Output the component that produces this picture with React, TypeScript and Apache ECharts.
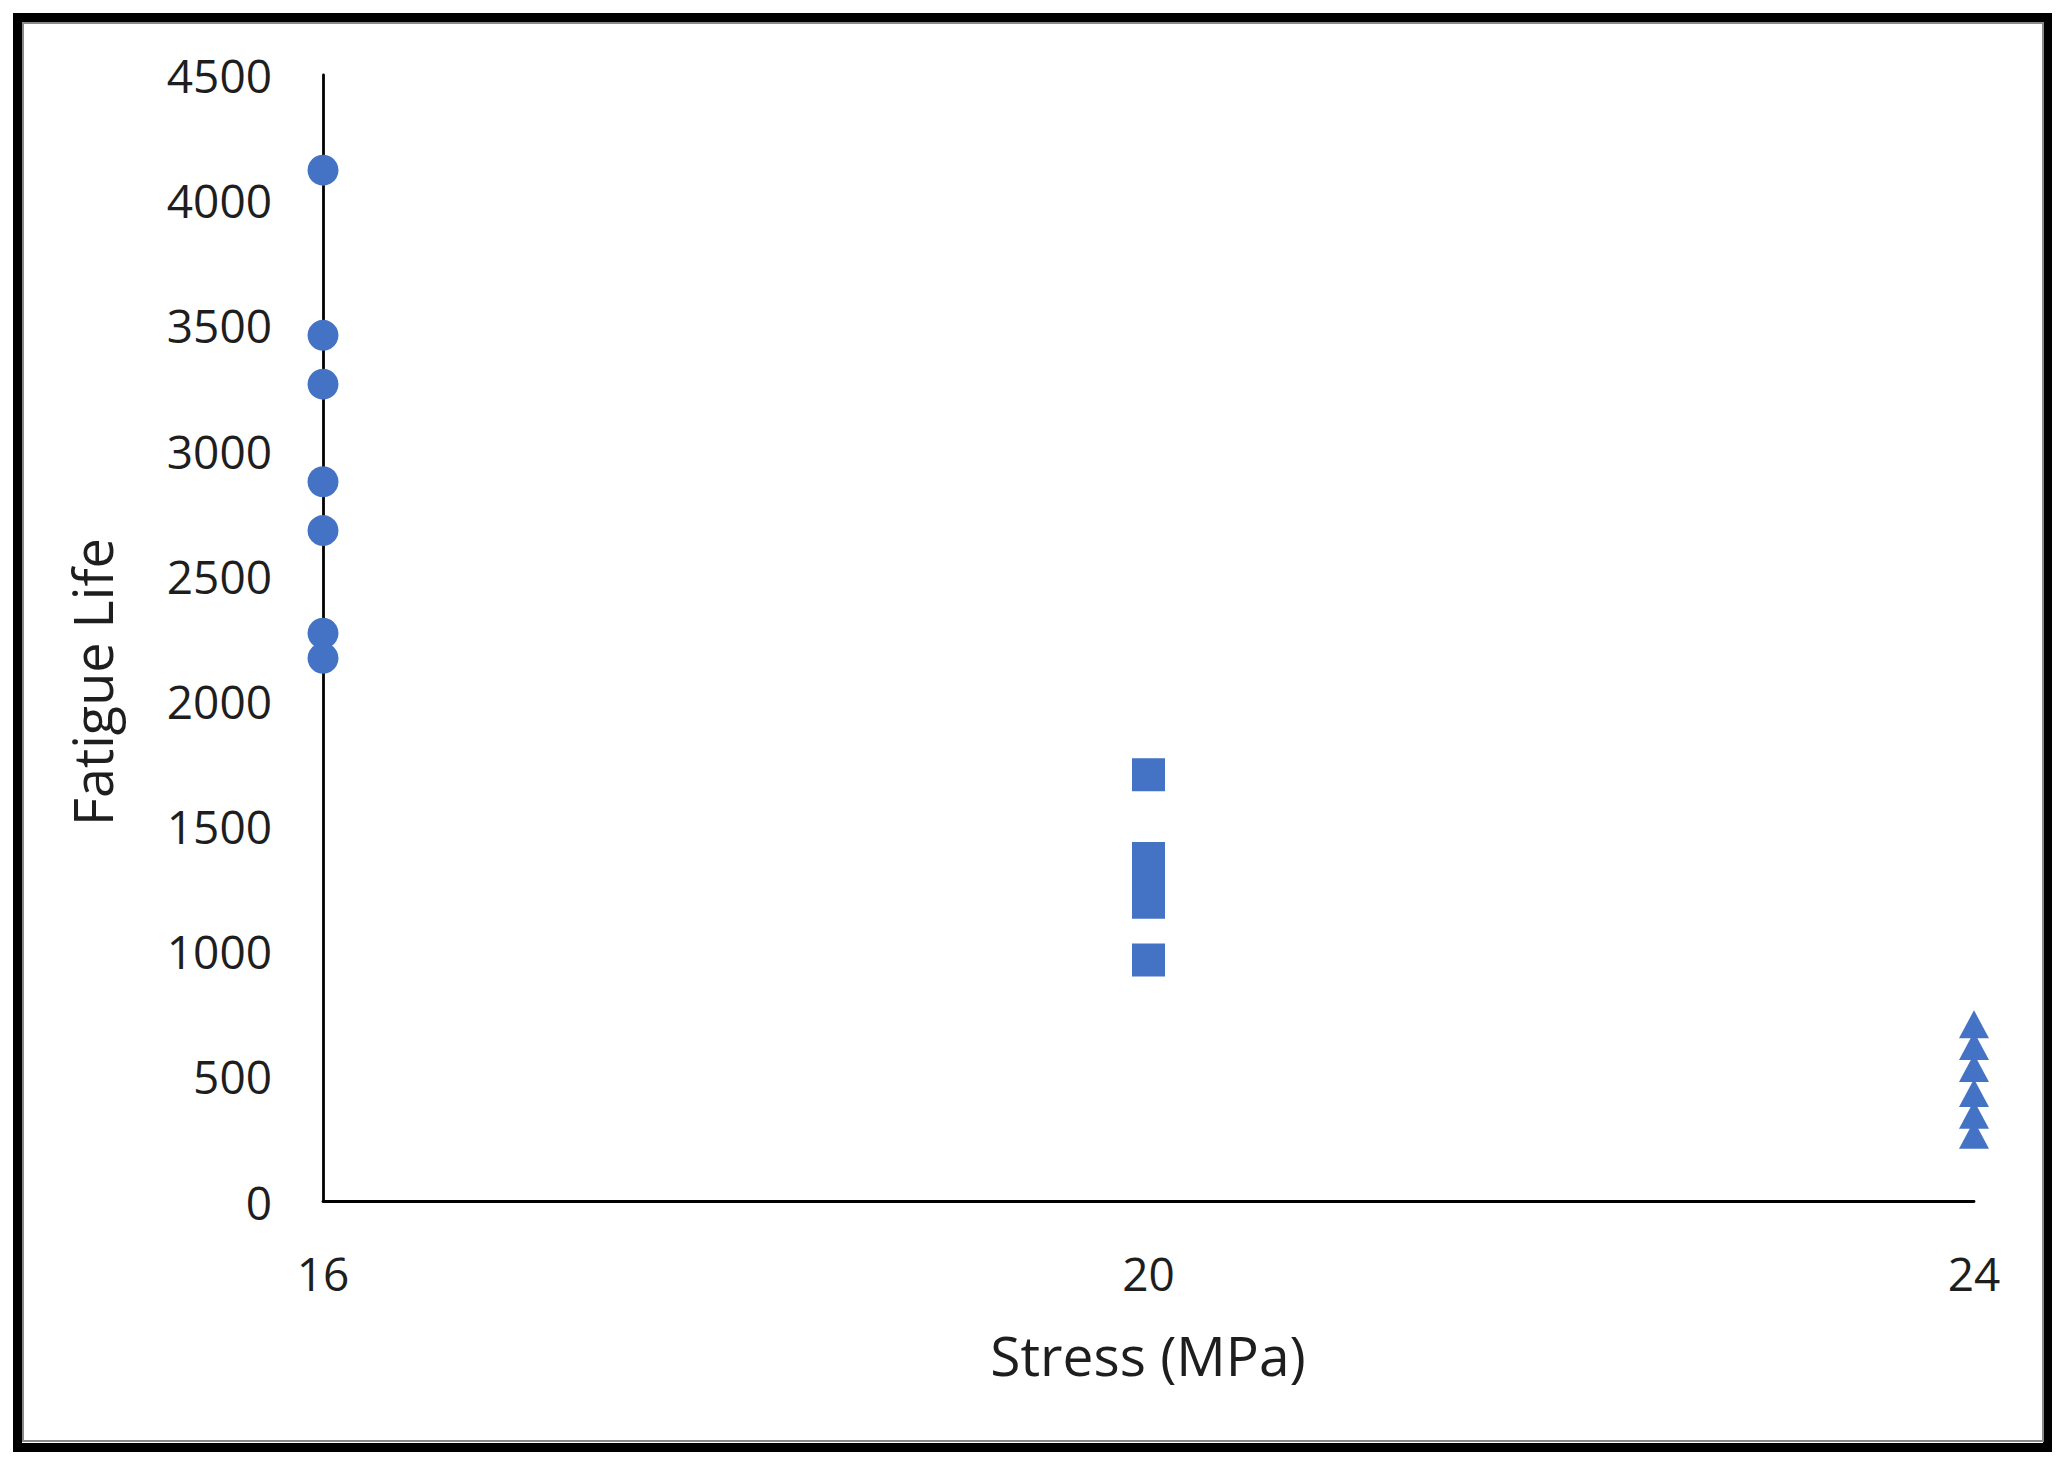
import React, { useEffect, useRef } from "react";
import * as echarts from "echarts";

// ---- data ----
const stressTicks = [16, 20, 24];
const lifeTicks = [0, 500, 1000, 1500, 2000, 2500, 3000, 3500, 4000, 4500];
const lifeAt16MPa = [4120, 3460, 3265, 2875, 2680, 2270, 2170];
const lifeAt20MPa = [1705, 1370, 1325, 1280, 1240, 1195, 965];
const lifeAt24MPa = [708, 621, 533, 433, 347, 267];

const xAxisName = "Stress (MPa)";
const yAxisName = "Fatigue Life";

const BLUE = "#4472C4";
const TEXT = "#1e1e1e";
const FONT = "'Open Sans', 'Noto Sans', sans-serif";

export default function App() {
  const ref = useRef<HTMLDivElement>(null);

  useEffect(() => {
    if (!ref.current) return;
    const chart = echarts.init(ref.current, undefined, { renderer: "svg" });
    const xStep = stressTicks[1] - stressTicks[0];
    const yStep = lifeTicks[1] - lifeTicks[0];

    chart.setOption({
      animation: false,
      backgroundColor: "#ffffff",
      textStyle: { fontFamily: FONT },
      grid: { left: 323, right: 91, top: 75, bottom: 272.5, containLabel: false },
      xAxis: {
        type: "value",
        min: stressTicks[0],
        max: stressTicks[stressTicks.length - 1],
        interval: xStep,
        axisLine: { show: true, onZero: false, lineStyle: { color: "#000", width: 2.8 } },
        axisTick: { show: false },
        splitLine: { show: false },
        axisLabel: {
          color: TEXT,
          fontSize: 46,
          fontFamily: FONT,
          margin: 48,
          formatter: (v: number) => String(v),
        },
      },
      yAxis: {
        type: "value",
        min: lifeTicks[0],
        max: lifeTicks[lifeTicks.length - 1],
        interval: yStep,
        axisLine: { show: true, onZero: false, lineStyle: { color: "#000", width: 2.8 } },
        axisTick: { show: false },
        splitLine: { show: false },
        axisLabel: {
          color: TEXT,
          fontSize: 46,
          fontFamily: FONT,
          margin: 51,
          formatter: (v: number) => String(v),
        },
      },
      series: [
        {
          type: "scatter",
          symbol: "circle",
          symbolSize: 31,
          itemStyle: { color: BLUE, opacity: 1 },
          data: lifeAt16MPa.map((v) => [stressTicks[0], v]),
        },
        {
          type: "scatter",
          symbol: "rect",
          symbolSize: 33,
          itemStyle: { color: BLUE, opacity: 1 },
          data: lifeAt20MPa.map((v) => [stressTicks[1], v]),
        },
        {
          type: "scatter",
          symbol: "triangle",
          symbolSize: [30, 28],
          itemStyle: { color: BLUE, opacity: 1 },
          data: lifeAt24MPa.map((v) => [stressTicks[2], v]),
        },
      ],
      graphic: [
        {
          type: "rect",
          shape: { x: 17.5, y: 17.5, width: 2030, height: 1430 },
          style: { fill: "none", stroke: "#000", lineWidth: 9 },
          silent: true,
        },
        {
          type: "rect",
          shape: { x: 23, y: 23, width: 2020, height: 1418 },
          style: { fill: "none", stroke: "#8a8a8a", lineWidth: 2 },
          silent: true,
        },
        {
          type: "text",
          x: 1148,
          y: 1354,
          style: {
            text: xAxisName,
            fill: TEXT,
            font: `55px ${FONT}`,
            align: "center",
            verticalAlign: "middle",
          },
          silent: true,
        },
        {
          type: "text",
          x: 92,
          y: 682,
          rotation: Math.PI / 2,
          style: {
            text: yAxisName,
            fill: TEXT,
            font: `54px ${FONT}`,
            align: "center",
            verticalAlign: "middle",
          },
          silent: true,
        },
      ],
    });

    return () => chart.dispose();
  }, []);

  return (
    <div
      ref={ref}
      style={{ position: "absolute", left: 0, top: 0, width: 2065, height: 1474, background: "#fff" }}
    />
  );
}
